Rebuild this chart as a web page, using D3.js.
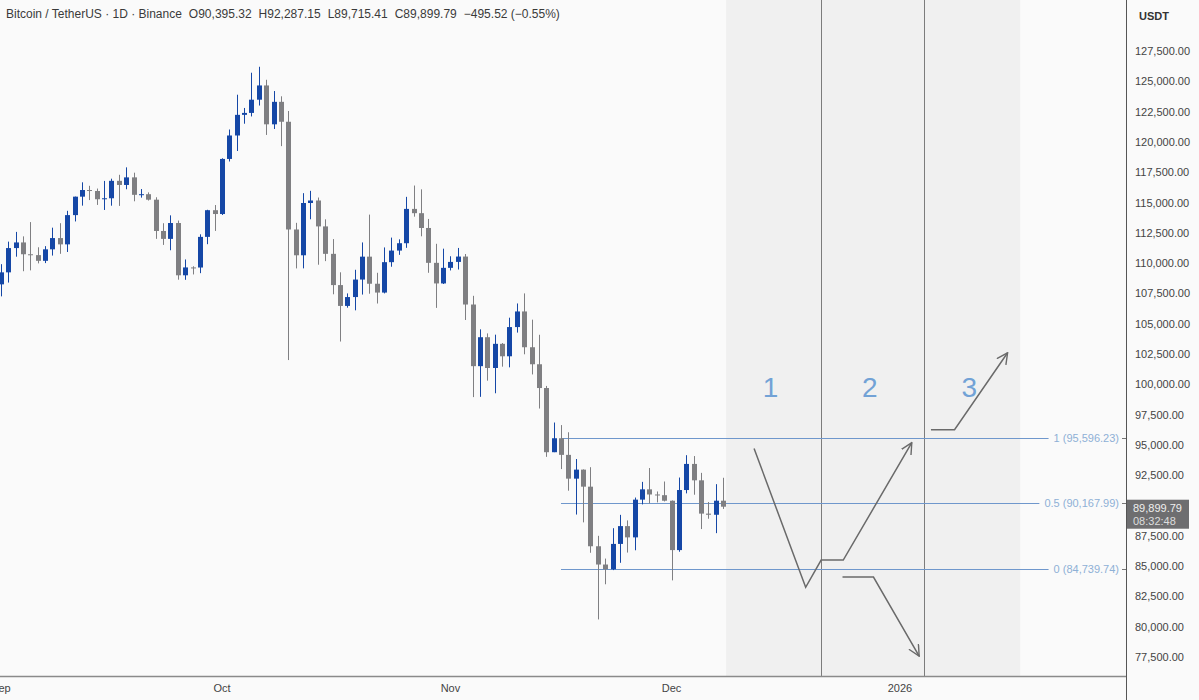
<!DOCTYPE html>
<html>
<head>
<meta charset="utf-8">
<script src="https://cdn.jsdelivr.net/npm/d3@7/dist/d3.min.js"></script>
<style>
body{margin:0;background:#fafafa;overflow:hidden;}
svg{display:block;font-family:"Liberation Sans",Arial,sans-serif;}
</style>
</head>
<body>
<script>
//BTCUSDT daily candles, 1 Sep 2025 - 8 Dec 2025 (one value per day)
var firstDay = "2025-09-01";
var opens = [108246,109237,111240,111705,110730,110659,110187,111137,112065,111546,
    113960,115482,116030,115950,115268,115349,116788,116447,117073,115632,
    115685,115232,112650,111998,113307,108994,109643,109635,112163,114365,
    114049,118594,120529,122232,122391,123482,124658,121451,123306,121662,
    112774,110645,114958,115166,113028,110763,108186,106467,107198,108642,
    110532,108297,107568,110078,111033,111641,114472,114119,112898,110021,
    108322,109608,110098,110540,106583,101497,103885,101346,103339,102312,
    104722,106011,103058,101654,99692,94397,95549,94177,92215,92960,
    91554,86637,85129,84739,86830,88300,87370,90484,91333,90910,
    90851,90394,86321,91277,93430,92078,89330,89236,90395.32];
var highs = [109912,111771,112575,112206,113384,111306,111400,112924,113293,114313,
    115488,116665,116378,116150,116781,116964,117286,117900,117459,116111,
    115836,115432,113290,113940,113510,110300,109740,112375,114400,114790,
    118649,121022,123894,122800,125708,126199,125126,124197,123762,122550,
    113322,115770,115963,115409,113612,111982,109240,107499,109450,111705,
    114000,109200,111293,112104,111960,115466,116400,116086,113643,111592,
    111190,110564,111250,110750,107300,104534,104200,104096,103406,105495,
    106670,107500,105333,104085,99866,96846,96635,96043,93836,92980,
    93160,87498,85620,88127,89228,88770,90656,91950,93092,91158,
    91980,90417,92307,94150,94080,92692,90289,91760,92287.15];
var lows = [107255,108393,110528,109329,109400,109977,110000,110621,110766,110917,
    113437,114740,115200,114800,114384,114737,114720,116092,115100,115400,
    115160,112000,111500,111060,108631,108620,109064,109170,111560,112656,
    113970,118383,119248,121500,122100,123000,120574,121066,119651,102000,
    109561,109565,113616,109866,110164,107427,103528,106322,106103,107402,
    107473,106666,107500,109700,110680,111260,113830,112211,109200,106304,
    108275,109394,109471,105306,98944,98966,100300,99260,101454,101400,
    104265,102476,100813,98000,94012,94400,93005,91220,89253,88608,
    86100,80600,83500,84668,85272,86116,86306,90089,90180,90255,
    90336,83822,86184,91000,90889,88056,88908,87719,89715.41];
var closes = [109237,111240,111705,110730,110659,110187,111137,112065,111546,113960,
    115482,116030,115950,115268,115349,116788,116447,117073,115632,115685,
    115232,112650,111998,113307,108994,109643,109635,112163,114365,114049,
    118594,120529,122232,122391,123482,124658,121451,123306,121662,112774,
    110645,114958,115166,113028,110763,108186,106467,107198,108642,110532,
    108297,107568,110078,111033,111641,114472,114119,112898,110021,108322,
    109608,110098,110540,106583,101497,103885,101346,103339,102312,104722,
    106011,103058,101654,99692,94397,95549,94177,92215,92960,91554,
    86637,85129,84739,86830,88300,87370,90484,91333,90910,90851,
    90394,86321,91277,93430,92078,89330,89236,90395.31,89899.79];

//axis ticks
var priceTicks = [77500,80000,82500,85000,87500,90000,92500,95000,97500,100000,
    102500,105000,107500,110000,112500,115000,117500,120000,122500,125000,127500];
var monthTicks = ["2025-09-01","2025-10-01","2025-11-01","2025-12-01","2026-01-01"];
var monthLabels = ["Sep","Oct","Nov","Dec","2026"];

//fib retracement drawn from the 16 Nov candle
var fibRatios = ["1","0.5","0"];
var fibPrices = [95596.23, 90167.99, 84739.74];
var fibStartDay = 76;

//scenario zones, in days after 1 Sep
var zoneEdges = [98.4, 111.3, 125.3, 138.3];
var zoneNames = ["1","2","3"];
var zoneLabelPrice = 99800;

//hand drawn arrows, [days after 1 Sep, price]
var arrowDipUp = [[102.2,94700],[109.2,83250],[111.3,85500],[114.3,85500],[123.6,95180]];
var arrowDown = [[114.2,84100],[118.4,84100],[124.6,77580]];
var arrowUp = [[126.2,96250],[129.4,96250],[136.6,102600]];

var timeLeft = "08:32:48";

(function(){

var width = 1199, height = 700,
    plotRight = 1126, plotBottom = 676;

var parseDay = d3.utcParse("%Y-%m-%d");
var day0 = parseDay(firstDay);
var fmt = d3.format(",.2f");

function dayDate(d){
    return new Date(day0.getTime() + d * 864e5);
};

//x: calendar scale, y: price scale
var x = d3.scaleUtc()
    .domain([day0, parseDay("2026-01-01")])
    .range([0.9, 900]);
var y = d3.scaleLinear()
    .domain([77500, 127500])
    .range([657, 51]);

var candles = opens.map(function(o, i){
    return {date: dayDate(i), o: o, h: highs[i], l: lows[i], c: closes[i]};
});

var svg = d3.select("body").append("svg")
    .attr("width", width)
    .attr("height", height);

svg.append("defs").append("clipPath")
    .attr("id", "plotClip")
    .append("rect")
    .attr("width", plotRight)
    .attr("height", plotBottom);

svg.select("defs").append("marker")
    .attr("id", "openHead")
    .attr("viewBox", "0 0 12 12")
    .attr("refX", 11).attr("refY", 6)
    .attr("markerWidth", 12).attr("markerHeight", 12)
    .attr("markerUnits", "userSpaceOnUse")
    .attr("orient", "auto")
    .append("path")
    .attr("d", "M0,0.5 L11,6 L0,11.5")
    .attr("fill", "none")
    .attr("stroke", "#6a6a6a")
    .attr("stroke-width", 1.4);

var plot = svg.append("g").attr("clip-path", "url(#plotClip)");

//grey zones + separators
plot.selectAll(".zone")
    .data(zoneNames)
    .enter()
    .append("rect")
    .attr("class", "zone")
    .attr("x", function(d, i){ return x(dayDate(zoneEdges[i])); })
    .attr("width", function(d, i){ return x(dayDate(zoneEdges[i+1])) - x(dayDate(zoneEdges[i])); })
    .attr("y", 0)
    .attr("height", plotBottom)
    .attr("fill", "#f0f0f0");

plot.selectAll(".sep")
    .data(zoneEdges.slice(1, 3))
    .enter()
    .append("line")
    .attr("x1", function(d){ return Math.round(x(dayDate(d))) + 0.5; })
    .attr("x2", function(d){ return Math.round(x(dayDate(d))) + 0.5; })
    .attr("y1", 0).attr("y2", plotBottom)
    .attr("stroke", "#7c7c7c")
    .attr("stroke-width", 1);

plot.selectAll(".zoneLabel")
    .data(zoneNames)
    .enter()
    .append("text")
    .attr("x", function(d, i){ return x(dayDate((zoneEdges[i] + zoneEdges[i+1]) / 2)) - 3; })
    .attr("y", y(zoneLabelPrice) + 10)
    .attr("text-anchor", "middle")
    .attr("font-size", 28)
    .attr("fill", "#72a2d6")
    .text(function(d){ return d; });

//fib levels, lines stop where their labels begin
var fibG = plot.selectAll(".fib")
    .data(fibPrices)
    .enter()
    .append("g");

fibG.append("text")
    .attr("x", 1119)
    .attr("y", function(d){ return y(d) + 4; })
    .attr("text-anchor", "end")
    .attr("font-size", 11)
    .attr("fill", "#8eb0d6")
    .text(function(d, i){ return fibRatios[i] + " (" + fmt(d) + ")"; });

fibG.insert("line", "text")
    .attr("x1", x(dayDate(fibStartDay)))
    .attr("x2", function(d){
        var t = d3.select(this.parentNode).select("text").node();
        return 1119 - t.getComputedTextLength() - 5;
    })
    .attr("y1", function(d){ return Math.round(y(d)) + 0.5; })
    .attr("y2", function(d){ return Math.round(y(d)) + 0.5; })
    .attr("stroke", "#6f97cc")
    .attr("stroke-width", 1);

//candles
var bars = plot.selectAll(".candle")
    .data(candles)
    .enter()
    .append("g")
    .attr("fill", function(d){ return d.c >= d.o ? "#1547a6" : "#7f7f82"; })
    .attr("stroke", function(d){ return d.c >= d.o ? "#1547a6" : "#7f7f82"; });

bars.append("line")
    .attr("x1", function(d){ return Math.round(x(d.date)) + 0.5; })
    .attr("x2", function(d){ return Math.round(x(d.date)) + 0.5; })
    .attr("y1", function(d){ return y(d.h); })
    .attr("y2", function(d){ return y(d.l); })
    .attr("stroke-width", 1);

bars.append("rect")
    .attr("x", function(d){ return Math.round(x(d.date)) - 2; })
    .attr("width", 5)
    .attr("y", function(d){ return y(Math.max(d.o, d.c)); })
    .attr("height", function(d){ return Math.max(1, y(Math.min(d.o, d.c)) - y(Math.max(d.o, d.c))); })
    .attr("stroke", "none");

//scenario arrows
var line = d3.line()
    .x(function(d){ return x(dayDate(d[0])); })
    .y(function(d){ return y(d[1]); });

plot.selectAll(".arrow")
    .data([arrowDipUp, arrowDown, arrowUp])
    .enter()
    .append("path")
    .attr("d", line)
    .attr("fill", "none")
    .attr("stroke", "#6a6a6a")
    .attr("stroke-width", 1.5)
    .attr("marker-end", "url(#openHead)");

//axes frame
svg.append("line")
    .attr("x1", 0).attr("x2", plotRight)
    .attr("y1", plotBottom + 0.5).attr("y2", plotBottom + 0.5)
    .attr("stroke", "#8a8a8a").attr("stroke-width", 1.5);
svg.append("line")
    .attr("x1", plotRight + 0.5).attr("x2", plotRight + 0.5)
    .attr("y1", 0).attr("y2", height)
    .attr("stroke", "#555").attr("stroke-width", 1);

//price axis
svg.selectAll(".ptick")
    .data(priceTicks)
    .enter()
    .append("text")
    .attr("x", 1135)
    .attr("y", function(d){ return y(d) + 4; })
    .attr("font-size", 11)
    .attr("fill", "#444")
    .text(function(d){ return fmt(d); });

svg.append("text")
    .attr("x", 1139).attr("y", 20)
    .attr("font-size", 11)
    .attr("font-weight", "bold")
    .attr("fill", "#333")
    .text("USDT");

//small marks on the axis at fib and last price
svg.selectAll(".amark")
    .data(fibPrices)
    .enter()
    .append("line")
    .attr("x1", 1122).attr("x2", plotRight)
    .attr("y1", function(d){ return Math.round(y(d)) + 0.5; })
    .attr("y2", function(d){ return Math.round(y(d)) + 0.5; })
    .attr("stroke", "#777");

//last price tag
var last = candles[candles.length - 1];
var tag = svg.append("g");
tag.append("rect")
    .attr("x", plotRight + 1).attr("y", y(last.c) - 7)
    .attr("width", 62).attr("height", 29)
    .attr("fill", "#6e6e70");
tag.append("text")
    .attr("x", 1133).attr("y", y(last.c) + 5)
    .attr("font-size", 11).attr("fill", "#eeeeee")
    .text(fmt(last.c));
tag.append("text")
    .attr("x", 1133).attr("y", y(last.c) + 18)
    .attr("font-size", 11).attr("fill", "#dddddd")
    .text(timeLeft);

//time axis
svg.selectAll(".mtick")
    .data(monthTicks)
    .enter()
    .append("text")
    .attr("x", function(d){ return x(parseDay(d)); })
    .attr("y", 692)
    .attr("text-anchor", "middle")
    .attr("font-size", 11)
    .attr("fill", "#444")
    .text(function(d, i){ return monthLabels[i]; });

//legend header
var prevClose = closes[closes.length - 2];
var chg = last.c - prevClose;
var minus = function(v){ return (v < 0 ? "\u2212" : "+") + fmt(Math.abs(v)); };
var parts = ["Bitcoin / TetherUS \u00b7 1D \u00b7 Binance",
    "O" + fmt(last.o), "H" + fmt(last.h), "L" + fmt(last.l), "C" + fmt(last.c),
    minus(chg) + " (" + minus(chg / prevClose * 100) + "%)"];
var hx = 6;
parts.forEach(function(p){
    var t = svg.append("text")
        .attr("x", hx).attr("y", 18)
        .attr("font-size", 12)
        .attr("fill", "#3a3a3a")
        .text(p);
    hx += t.node().getComputedTextLength() + 7;
});

})();
</script>
</body>
</html>
